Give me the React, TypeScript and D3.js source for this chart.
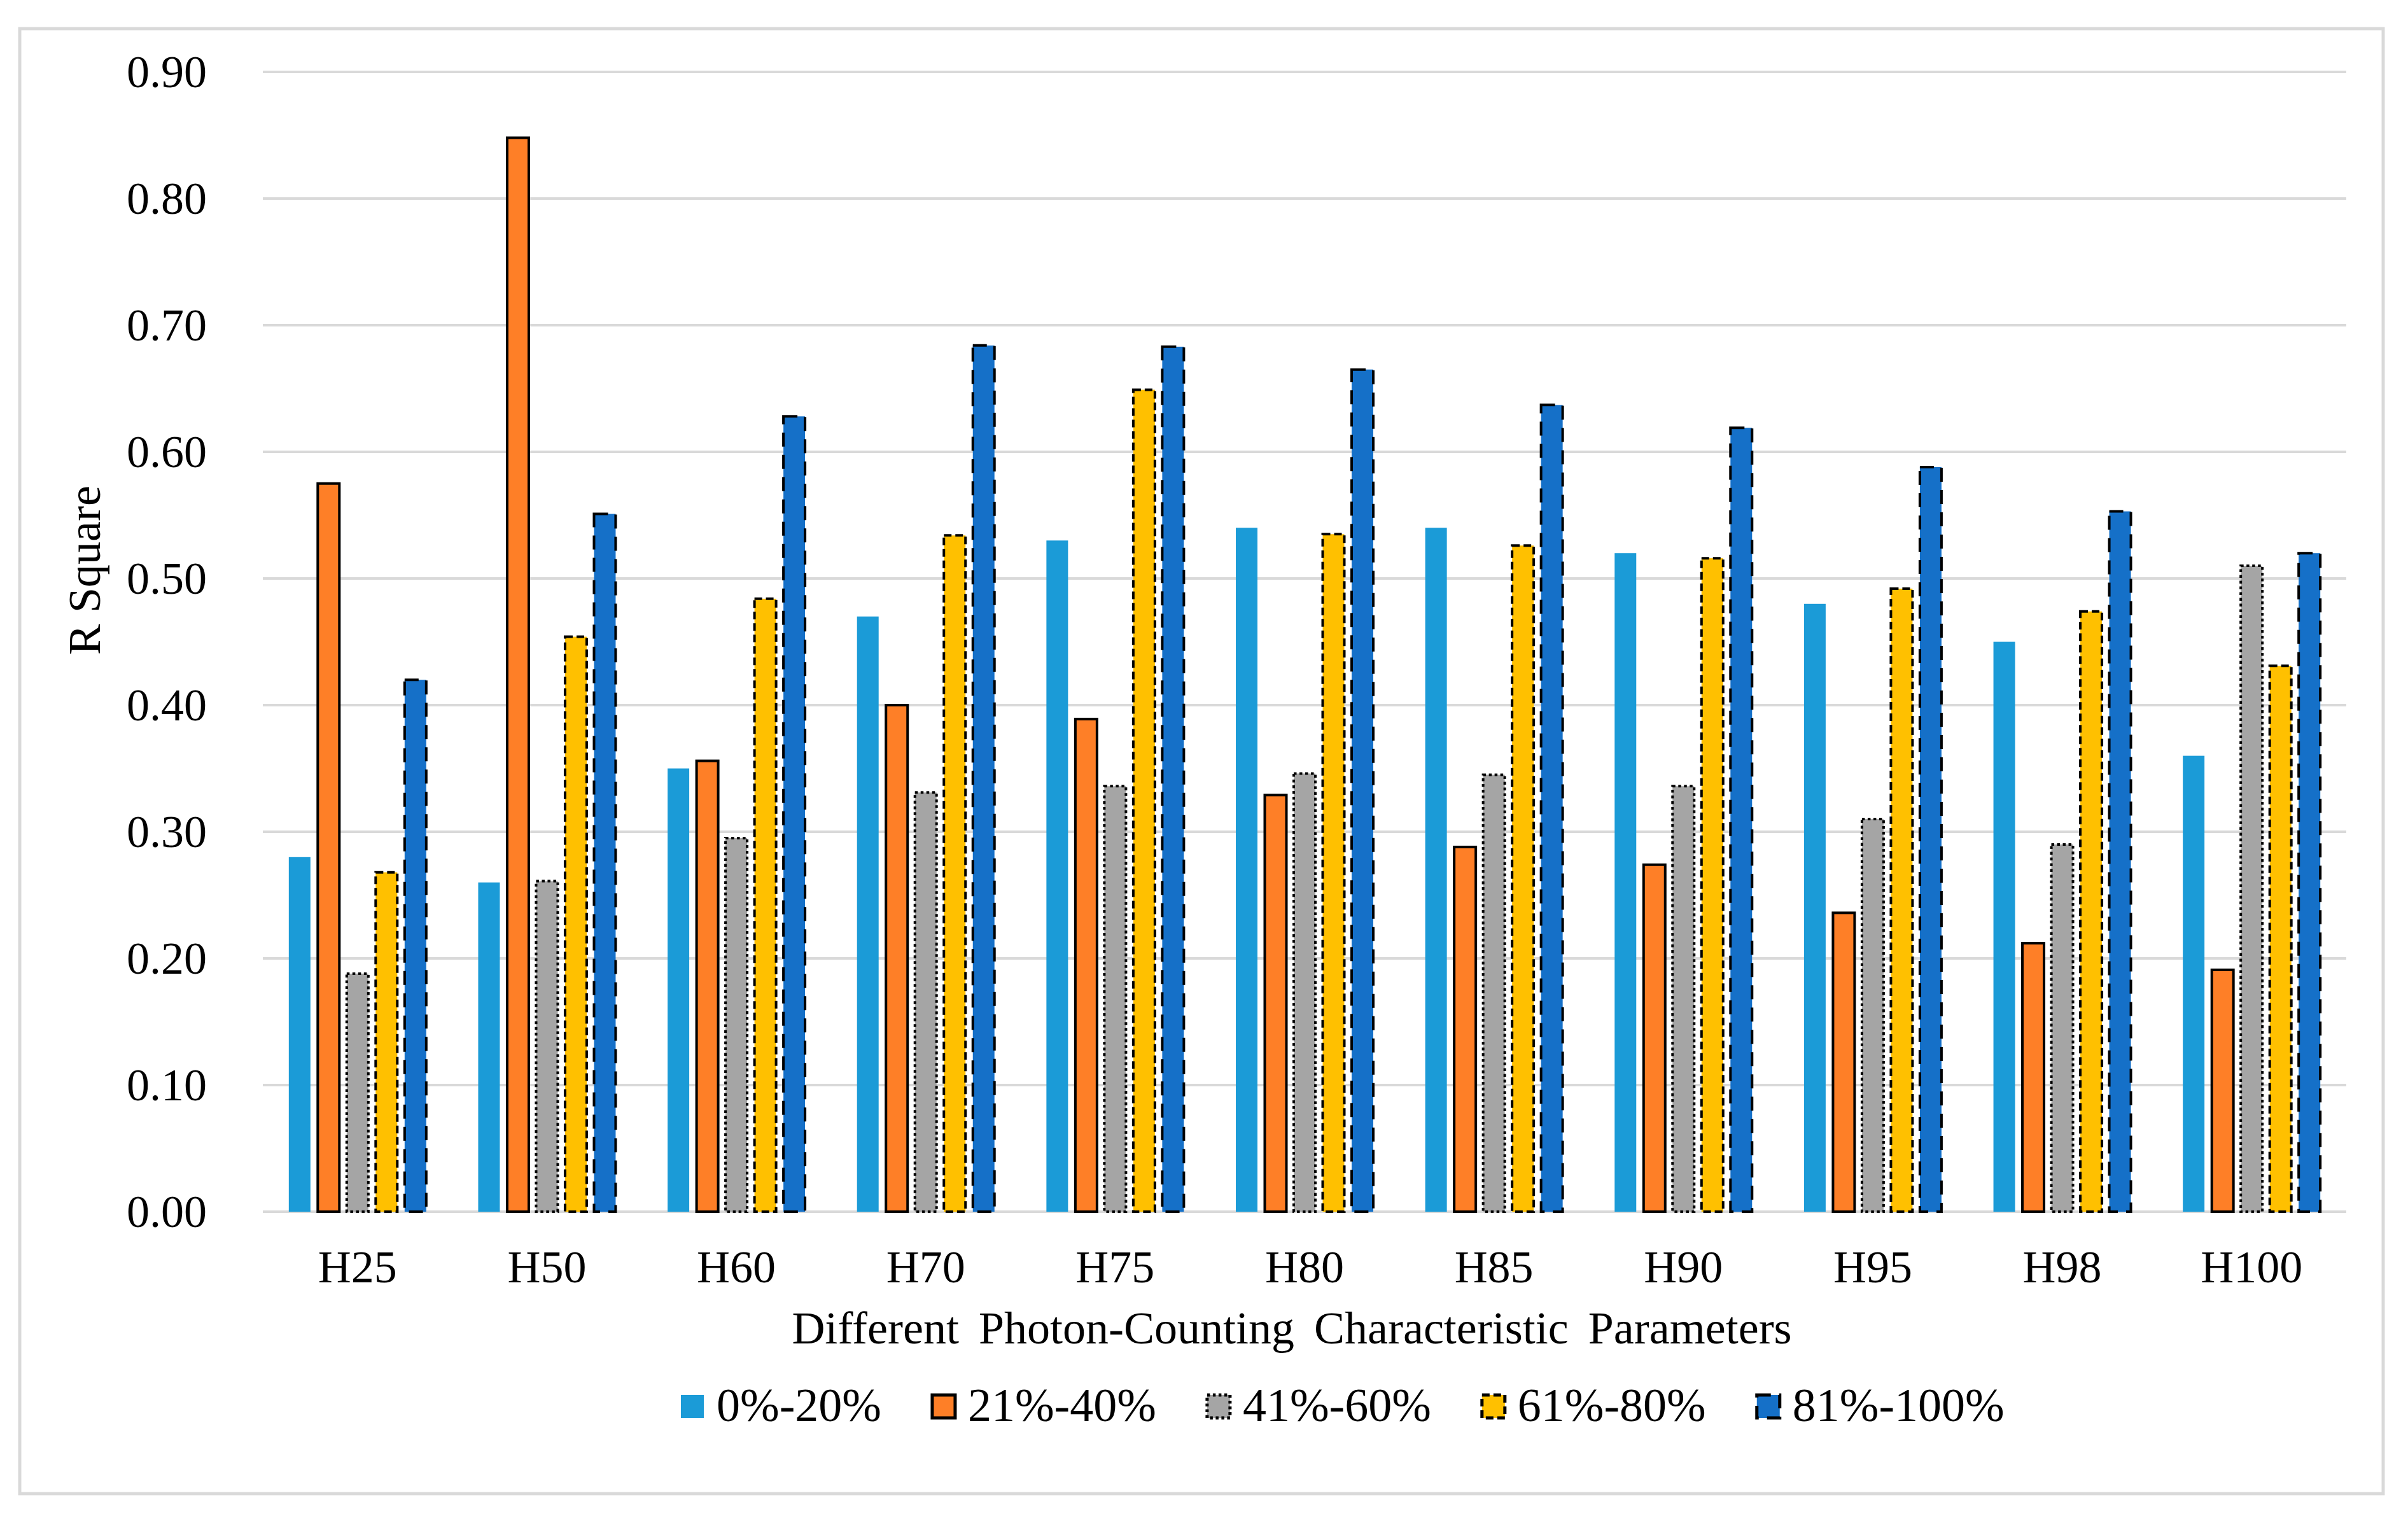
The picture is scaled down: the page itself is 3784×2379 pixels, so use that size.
import React, { useEffect, useRef } from 'react';
import * as d3 from 'd3';

const categories = ["H25", "H50", "H60", "H70", "H75", "H80", "H85", "H90", "H95", "H98", "H100"];
const seriesNames = ["0%-20%", "21%-40%", "41%-60%", "61%-80%", "81%-100%"];
const s0to20 = [0.28, 0.26, 0.35, 0.47, 0.53, 0.54, 0.54, 0.52, 0.48, 0.45, 0.36];
const s21to40 = [0.575, 0.848, 0.356, 0.40, 0.389, 0.329, 0.288, 0.274, 0.236, 0.212, 0.191];
const s41to60 = [0.188, 0.261, 0.295, 0.331, 0.336, 0.346, 0.345, 0.336, 0.310, 0.290, 0.510];
const s61to80 = [0.268, 0.454, 0.484, 0.534, 0.649, 0.535, 0.526, 0.516, 0.492, 0.474, 0.431];
const s81to100 = [0.420, 0.551, 0.628, 0.684, 0.683, 0.665, 0.637, 0.619, 0.588, 0.553, 0.520];
const yTicks = [0, 0.1, 0.2, 0.3, 0.4, 0.5, 0.6, 0.7, 0.8, 0.9];

const seriesValues = [s0to20, s21to40, s41to60, s61to80, s81to100];

// fill + outline style per series (Excel look)
const styles = [
  { fill: "#1b9bd7", stroke: "none", dash: null },
  { fill: "#fe7f27", stroke: "#000", dash: null },
  { fill: "#a5a5a5", stroke: "#000", dash: "4.5 4.5" },
  { fill: "#ffc000", stroke: "#000", dash: "12 6" },
  { fill: "#1570c8", stroke: "#000", dash: "22 13" },
];

const W = 3784;
const H = 2379;
const FONT = "'Liberation Serif', 'Times New Roman', serif";

export default function App() {
  const svgRef = useRef<SVGSVGElement>(null);

  useEffect(() => {
    if (!svgRef.current) return;
    const svg = d3.select(svgRef.current);
    svg.selectAll("*").remove();

    const left = 413, right = 3687, top = 113, bottom = 1904;

    svg.append("rect").attr("width", W).attr("height", H).attr("fill", "#fff");
    // outer frame
    svg.append("rect")
      .attr("x", 31).attr("y", 45).attr("width", 3714).attr("height", 2302)
      .attr("fill", "none").attr("stroke", "#d9d9d9").attr("stroke-width", 5);

    const x0 = d3.scaleBand().domain(categories).range([left, right]).padding(0);
    const groupW = 216;
    const x1 = d3.scaleBand()
      .domain(seriesNames)
      .range([(x0.bandwidth() - groupW) / 2, (x0.bandwidth() + groupW) / 2])
      .paddingInner(0.253)
      .paddingOuter(0);
    const y = d3.scaleLinear().domain([0, 0.9]).range([bottom, top]);

    // gridlines
    svg.append("g").selectAll("line").data(yTicks).enter().append("line")
      .attr("x1", left).attr("x2", right)
      .attr("y1", d => y(d)).attr("y2", d => y(d))
      .attr("stroke", "#d9d9d9").attr("stroke-width", 4);

    // y tick labels
    svg.append("g").selectAll("text").data(yTicks).enter().append("text")
      .attr("x", 325).attr("y", d => y(d) + 24)
      .attr("text-anchor", "end")
      .style("font-family", FONT).style("font-size", "72px").attr("fill", "#000")
      .text(d => d3.format(".2f")(d));

    // bars
    seriesNames.forEach((name, si) => {
      const st = styles[si];
      const g = svg.append("g");
      g.selectAll("rect").data(seriesValues[si]).enter().append("rect")
        .attr("x", (_, i) => (x0(categories[i]) || 0) + (x1(name) || 0))
        .attr("y", d => y(d))
        .attr("width", x1.bandwidth())
        .attr("height", d => bottom - y(d))
        .attr("fill", st.fill)
        .attr("stroke", st.stroke)
        .attr("stroke-width", st.stroke === "none" ? 0 : 4)
        .attr("stroke-dasharray", st.dash);
    });

    // category labels
    svg.append("g").selectAll("text").data(categories).enter().append("text")
      .attr("x", d => (x0(d) || 0) + x0.bandwidth() / 2)
      .attr("y", 2015)
      .attr("text-anchor", "middle")
      .style("font-family", FONT).style("font-size", "72px")
      .text(d => d);

    // axis titles
    svg.append("text")
      .attr("x", 2030).attr("y", 2111)
      .attr("text-anchor", "middle")
      .style("font-family", FONT).style("font-size", "72px")
      .style("word-spacing", "13px")
      .text("Different Photon-Counting Characteristic Parameters");

    svg.append("text")
      .attr("transform", "translate(157,896) rotate(-90)")
      .attr("text-anchor", "middle")
      .style("font-family", FONT).style("font-size", "72px")
      .text("R Square");

    // legend
    let lx = 1070;
    const ly = 2192;
    seriesNames.forEach((name, si) => {
      const st = styles[si];
      svg.append("rect")
        .attr("x", lx).attr("y", ly).attr("width", 36).attr("height", 36)
        .attr("fill", st.fill)
        .attr("stroke", st.stroke)
        .attr("stroke-width", st.stroke === "none" ? 0 : 5)
        .attr("stroke-dasharray", st.dash);
      const t = svg.append("text")
        .attr("x", lx + 56).attr("y", 2233)
        .style("font-family", FONT).style("font-size", "74px")
        .text(name);
      const tw = (t.node() as SVGTextElement).getComputedTextLength();
      lx += 56 + tw + 80;
    });
  }, []);

  return (
    <div style={{ position: 'absolute', left: 0, top: 0 }}>
      <svg ref={svgRef} width={W} height={H} style={{ display: 'block' }} />
    </div>
  );
}
